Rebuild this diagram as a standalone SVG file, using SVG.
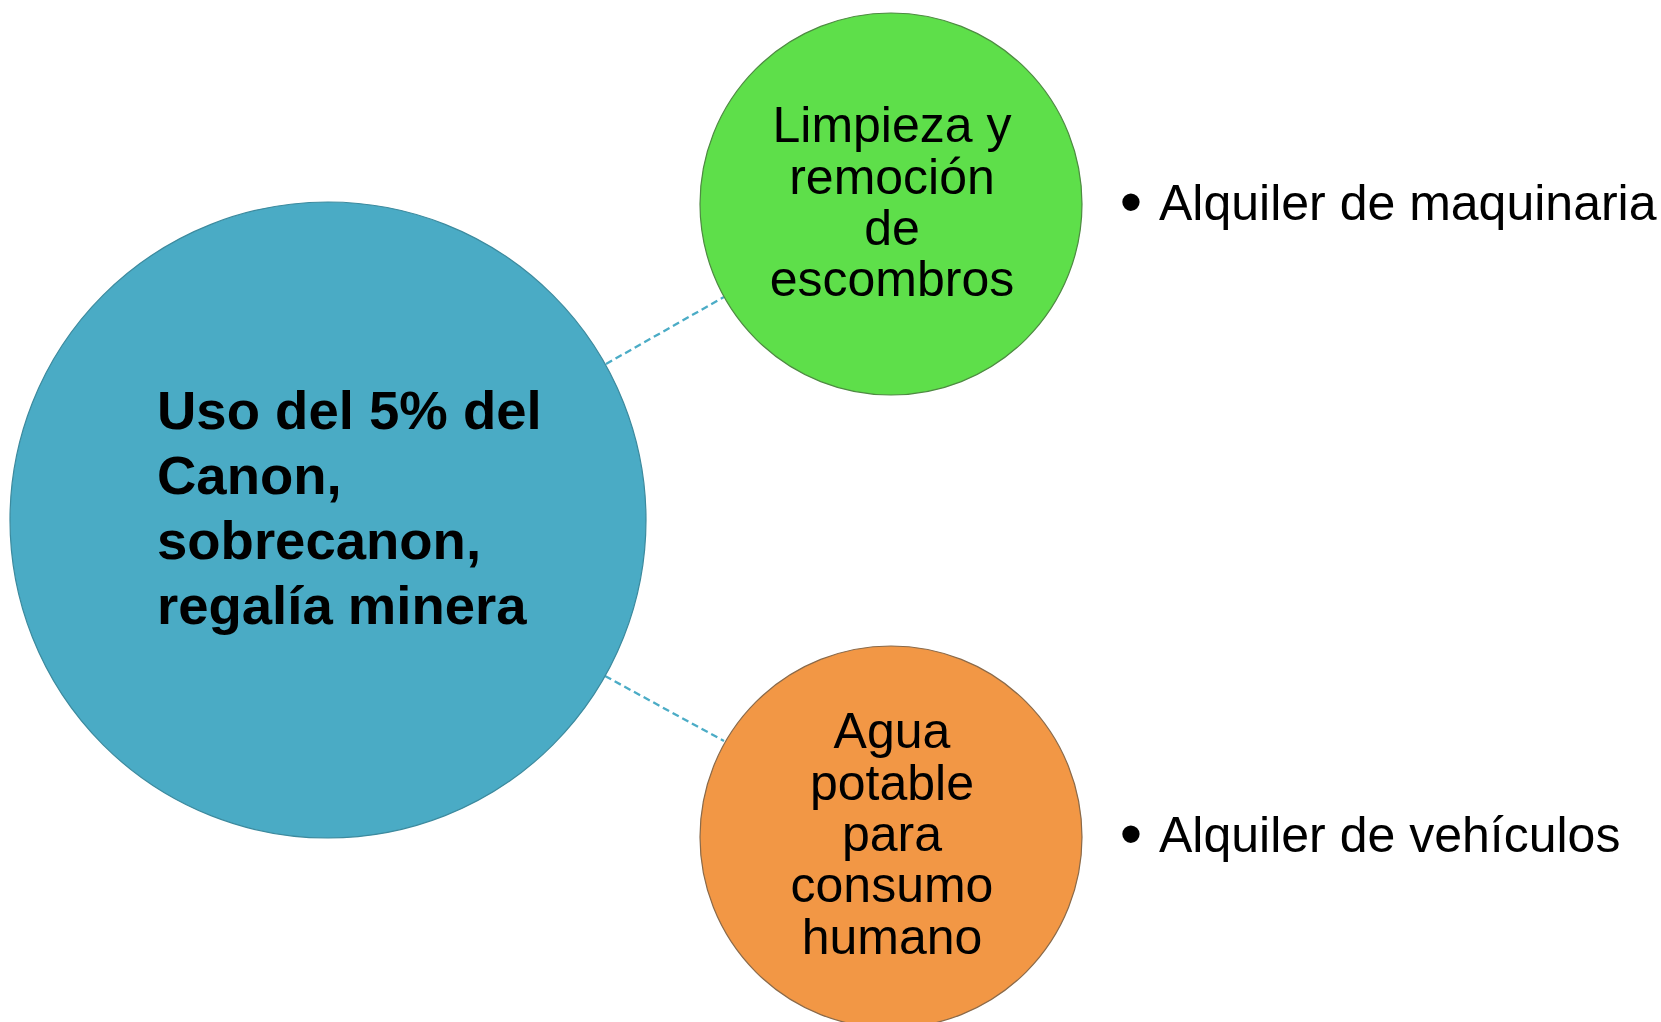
<svg xmlns="http://www.w3.org/2000/svg" width="1661" height="1022" viewBox="0 0 1661 1022">
<style>
.t{font-family:"Liberation Sans",Arial,sans-serif;fill:#000}
.main{font-size:54.5px;font-weight:bold}
.sub{font-size:50px;text-anchor:middle}
.bul{font-size:50px}
.dot{font-size:64px;text-anchor:middle}
.conn{stroke:#4BACC6;stroke-width:2.3;stroke-dasharray:7 4;fill:none}
</style>
<rect width="1661" height="1022" fill="#fff"/>
<g id="connectors">
<line class="conn" x1="606" y1="364" x2="724" y2="297"/>
<line class="conn" x1="605" y1="676" x2="724" y2="741"/>
</g>
<g id="node-main">
<circle cx="328" cy="520" r="318" fill="#4AABC5" stroke="#3C8A9E" stroke-width="1.2"/>
<text class="t main" x="157" y="429">Uso del 5% del</text>
<text class="t main" x="157" y="494">Canon,</text>
<text class="t main" x="157" y="559">sobrecanon,</text>
<text class="t main" x="157" y="624">regalía minera</text>
</g>
<g id="node-limpieza">
<circle cx="891" cy="204" r="191" fill="#5EDF4A" stroke="#4E8A42" stroke-width="1.2"/>
<text class="t sub" x="892" y="142">Limpieza y</text>
<text class="t sub" x="892" y="194">remoción</text>
<text class="t sub" x="892" y="245">de</text>
<text class="t sub" x="892" y="296">escombros</text>
</g>
<g id="node-agua">
<circle cx="891" cy="837" r="191" fill="#F29745" stroke="#8A6A4A" stroke-width="1.2"/>
<text class="t sub" x="892" y="748">Agua</text>
<text class="t sub" x="892" y="800">potable</text>
<text class="t sub" x="892" y="851">para</text>
<text class="t sub" x="892" y="902">consumo</text>
<text class="t sub" x="892" y="954">humano</text>
</g>
<g id="bullet-maquinaria">
<text class="t dot" x="1131" y="224">•</text>
<text class="t bul" x="1159" y="220">Alquiler de maquinaria</text>
</g>
<g id="bullet-vehiculos">
<text class="t dot" x="1131" y="856">•</text>
<text class="t bul" x="1159" y="852">Alquiler de vehículos</text>
</g>
</svg>
